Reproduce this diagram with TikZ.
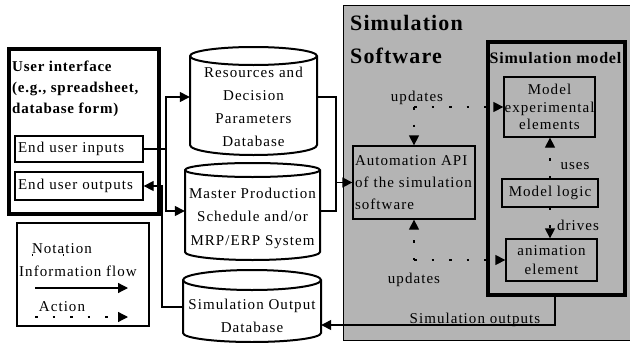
\documentclass[tikz,border=0pt]{standalone}
\usepackage{fontspec}
\setmainfont{Liberation Serif}
\newfontfamily\txtface{Liberation Serif}[LetterSpace=7]
\newfontfamily\hdface{Liberation Serif}[LetterSpace=5]
\usetikzlibrary{arrows.meta,calc}
\definecolor{panelgray}{RGB}{180,180,180}

% database drum: left, right, top-ellipse centre, bottom-ellipse centre, top ry, bottom ry
\newcommand\dbdrum[6]{%
  \pgfmathsetmacro\drx{(#2-#1)/2}%
  \draw[drumline, fill=white] (#1,#3) -- (#1,#4)
    arc[start angle=180, end angle=360, x radius=\drx pt, y radius=#6pt]
    -- (#2,#3)
    arc[start angle=0, end angle=180, x radius=\drx pt, y radius=#5pt] -- cycle;
  \draw[drumline] (#1,#3)
    arc[start angle=180, end angle=360, x radius=\drx pt, y radius=#5pt];
}

\begin{document}
\begin{tikzpicture}[x=1pt, y=-1pt,
  txt/.style={font=\txtface\fontsize{15}{17}\selectfont, inner sep=0pt},
  hd/.style={font=\hdface\bfseries\fontsize{15}{21}\selectfont, inner sep=0pt},
  box/.style={draw, line width=1.3pt, inner sep=0pt, font=\txtface\fontsize{15}{17}\selectfont},
  anchorbox/.style={inner sep=0pt, minimum height=20pt},
  drumline/.style={line width=2pt},
  plain/.style={line width=1.3pt},
  flow/.style={line width=1.3pt, -{Triangle[length=10pt,width=10pt]}},
  act/.style={line width=1.3pt, dash pattern=on 2.5pt off 15pt, -{Triangle[length=10pt,width=10pt]}},
  dotline/.style={line width=1.3pt, dash pattern=on 1.5pt off 29.5pt}]

\useasboundingbox (0,0) rectangle (630,343);
\fill[white] (0,0) rectangle (630,343);

% ---- simulation software panel ----
\node[draw, line width=1pt, fill=panelgray, anchor=north west, inner sep=0pt,
      minimum width=292pt, minimum height=335pt] (sw) at (343,5) {};
\node[font=\hdface\bfseries\fontsize{22}{33}\selectfont, inner sep=0pt,
      anchor=west, align=left] (swt) at (350,39) {Simulation\\Software};

\node[draw, line width=4pt, anchor=north west, inner sep=0pt,
      minimum width=137pt, minimum height=253pt] (sm) at (486,40) {};
\node[font=\hdface\bfseries\fontsize{16}{20}\selectfont, inner sep=0pt,
      anchor=base] (smt) at (555.5,63) {Simulation model};

\node[box, minimum width=91pt, minimum height=60pt, align=center,
      font=\txtface\fontsize{15}{17.5}\selectfont] (mexp) at (549.5,107)
      {Model\\experimental\\elements};
\node[box, minimum width=96pt, minimum height=28pt] (ml) at (550,193) {Model logic};
\node[box, minimum width=91pt, minimum height=42pt, align=center,
      font=\txtface\fontsize{15}{19}\selectfont] (anim) at (551.5,260)
      {animation\\element};
\node[box, minimum width=122pt, minimum height=73pt, inner xsep=2pt,
      text width=118pt, align=left,
      font=\txtface\fontsize{15}{22}\selectfont] (api) at (414,182.5)
      {Automation API\\of the simulation\\software};

% ---- user interface ----
\node[draw, line width=3.5pt, anchor=north west, inner sep=0pt,
      minimum width=150pt, minimum height=165pt] (ui) at (7,47) {};
\node[hd, anchor=west, align=left] (uit) at (12,88.5)
      {User interface\\(e.g., spreadsheet,\\database form)};
\node[box, minimum width=128pt, minimum height=26pt, inner xsep=3pt,
      text width=122pt, align=left] (in) at (79,149) {End user inputs};
\node[box, minimum width=128pt, minimum height=28pt, inner xsep=3pt,
      text width=122pt, align=left] (out) at (79,186) {End user outputs};

% ---- notation ----
\node[draw, line width=1.5pt, inner sep=0pt, minimum width=132pt,
      minimum height=103pt] (leg) at (83,274.5) {};
\node[txt, anchor=base] (lnot) at (62,253) {Notation};
\node[txt, anchor=base] (linf) at (78,276) {Information flow};
\node[txt, anchor=base] (lact) at (62,311) {Action};
\draw[dotline] ($(lnot.base west)+(0,2)$) -- ($(lnot.base east)+(0,2)$);
\coordinate (fa) at (35,288);
\coordinate (fb) at (128,288);
\draw[flow] (fa) -- (fb);
\coordinate (aa) at (35,317);
\coordinate (ab) at (128,317);
\draw[act] (aa) -- (ab);

% ---- databases ----
\dbdrum{190}{317}{56}{145}{9}{10}
\node[anchorbox, minimum width=127pt] (res) at (253.5,97) {};
\node[txt, align=center, font=\txtface\fontsize{15}{23}\selectfont] (rest)
      at (253.5,106.5) {Resources and\\Decision\\Parameters\\Database};

\dbdrum{185}{320}{170}{252}{7}{8}
\node[anchorbox, minimum width=135pt] (mps) at (252.5,211) {};
\node[txt, align=center, font=\txtface\fontsize{15}{23.5}\selectfont] (mpst)
      at (252.5,218) {Master Production\\Schedule and/or\\MRP/ERP System};

\dbdrum{183}{321}{280}{333}{10}{9}
\node[anchorbox, minimum width=138pt] (so) at (252,307) {};
\node[txt, align=center, font=\txtface\fontsize{15}{23}\selectfont] (sot)
      at (252,315.5) {Simulation Output\\Database};

% ---- information flows ----
\coordinate (j1) at (166,149);
\draw[flow] (in.east) -- (j1) |- (res.west);
\draw[flow] (j1) |- (mps.west);

\coordinate (j2) at (162,307);
\draw[flow] (so.west) -- (j2) |- (out.east);

\coordinate (j3) at (336,182.5);
\draw[plain] (res.east) -| (j3);
\draw[plain] (mps.east) -| (j3);
\draw[flow] (j3) -- (api.west);

\coordinate (c3) at (555,325);
\draw[flow] (sm.south -| c3) -- (c3) -- (c3 -| so.east);
\node[txt, anchor=base] (lso) at (475,323) {Simulation outputs};

% ---- actions ----
\coordinate (u1) at (414,107);
\draw[act] (u1) -- (mexp.west);
\draw[act] (u1) -- (api.north);
\node[txt, anchor=base] (lu1) at (417,101) {updates};

\coordinate (u2) at (414,260);
\draw[act] (u2) -- (api.south);
\draw[act] (u2) -- (anim.west);
\node[txt, anchor=base] (lu2) at (414,283) {updates};

\draw[act] (ml.north) -- (ml.north |- mexp.south);
\node[txt, anchor=base] (luse) at (575,169) {uses};
\draw[act] (ml.south) -- (ml.south |- anim.north);
\node[txt, anchor=base] (ldrv) at (578,230) {drives};

\end{tikzpicture}
\end{document}
